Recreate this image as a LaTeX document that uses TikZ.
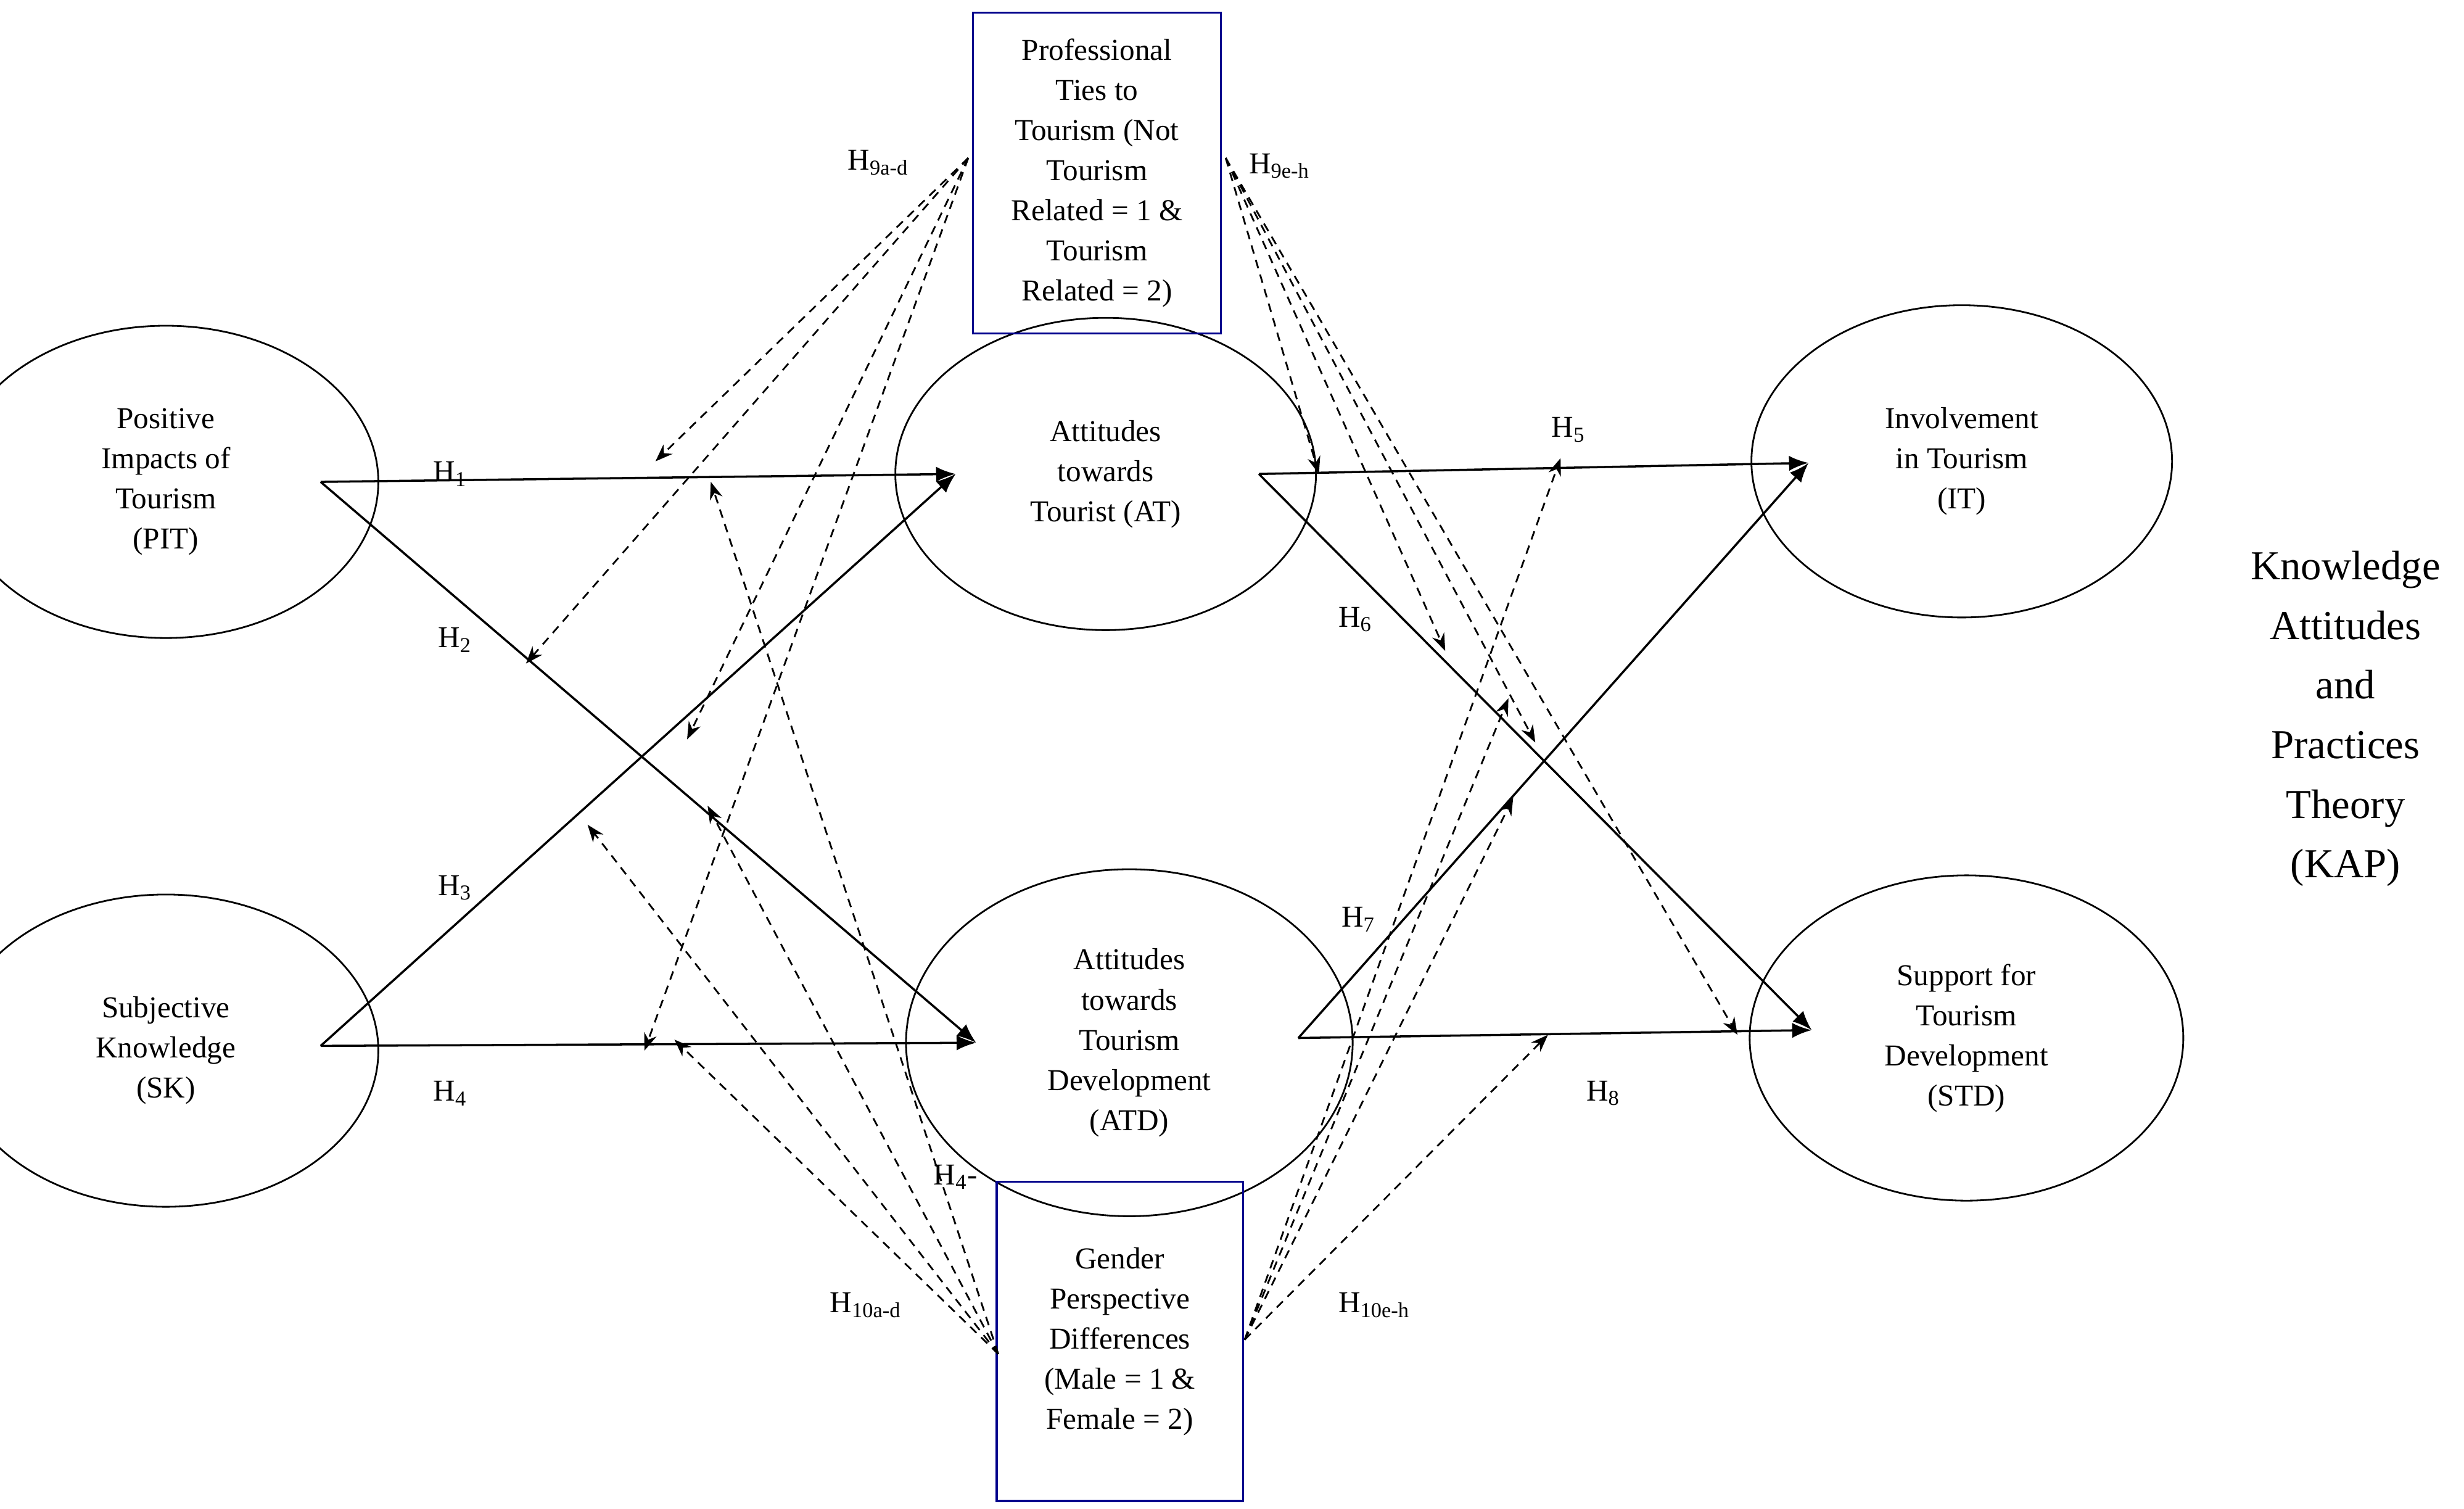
\documentclass[tikz,border=0pt]{standalone}
\usepackage{fontspec}
\setmainfont{Liberation Serif}
\usetikzlibrary{shapes.geometric,arrows.meta}
\begin{document}
\begin{tikzpicture}[x=0.02561cm,y=-0.02561cm,
 el/.style={draw,ellipse,line width=0.8pt,align=center,font=\fontsize{14}{18.5}\selectfont},
 bx/.style={draw=blue!55!black,line width=1pt,align=center,font=\fontsize{14}{18.5}\selectfont},
 sol/.style={line width=1pt,-{Latex[length=9pt,width=7pt]}},
 das/.style={line width=0.8pt,dashed,dash pattern=on 4pt off 3pt,-{Stealth[length=8pt,width=6pt]}},
 lb/.style={font=\fontsize{14}{17}\selectfont}]
\useasboundingbox (0,0) rectangle (1560,955);
\node[el,minimum width=196,minimum height=144] (PIT) at (105,305) {};
\node[align=center,font=\fontsize{14}{18.5}\selectfont] at (PIT) {Positive\\Impacts of\\Tourism\\(PIT)};
\node[el,minimum width=196,minimum height=144] (SK) at (105,665) {};
\node[align=center,font=\fontsize{14}{18.5}\selectfont] at (SK) {Subjective\\Knowledge\\(SK)};
\node[el,minimum width=194,minimum height=144] (AT) at (700,300) {};
\node[align=center,font=\fontsize{14}{18.5}\selectfont] at (AT) {Attitudes\\towards\\Tourist (AT)};
\node[el,minimum width=206,minimum height=160] (ATD) at (715,660) {};
\node[align=center,font=\fontsize{14}{18.5}\selectfont] at (ATD) {Attitudes\\towards\\Tourism\\Development\\(ATD)};
\node[el,minimum width=194,minimum height=144] (IT) at (1242,292) {};
\node[align=center,font=\fontsize{14}{18.5}\selectfont] at (IT) {Involvement\\in Tourism\\(IT)};
\node[el,minimum width=200,minimum height=150] (STD) at (1245,657) {};
\node[align=center,font=\fontsize{14}{18.5}\selectfont] at (STD) {Support for\\Tourism\\Development\\(STD)};
\draw[blue!55!black,line width=1pt] (616,8) rectangle (773,211);
\node[align=center,font=\fontsize{14}{18.5}\selectfont] (PT) at (694.5,109.5) {Professional\\Ties to\\Tourism (Not\\Tourism\\Related = 1 \&\\Tourism\\Related = 2)};
\draw[blue!55!black,line width=1pt] (631,748) rectangle (787,950);
\node[align=center,font=\fontsize{14}{18.5}\selectfont] (GP) at (709,849) {Gender\\Perspective\\Differences\\(Male = 1 \&\\Female = 2)};
\node[align=center,font=\fontsize{19}{27.5}\selectfont] (KAP) at (1485,455) {Knowledge\\Attitudes\\and\\Practices\\Theory\\(KAP)};
% coordinates
\coordinate (pitr) at (203,305); \coordinate (skr) at (203,662);
\coordinate (atl) at (605,300); \coordinate (atdl) at (618,660);
\coordinate (atr) at (797,300); \coordinate (atdr) at (822,657);
\coordinate (itl) at (1145,293); \coordinate (stdl) at (1147,652);
\draw[sol] (pitr) -- (atl);
\draw[sol] (pitr) -- (atdl);
\draw[sol] (skr) -- (atl);
\draw[sol] (skr) -- (atdl);
\draw[sol] (atr) -- (itl);
\draw[sol] (atr) -- (stdl);
\draw[sol] (atdr) -- (itl);
\draw[sol] (atdr) -- (stdl);
\node[lb] at (285,300) {H\textsubscript{1}};
\node[lb] at (288,405) {H\textsubscript{2}};
\node[lb] at (288,562) {H\textsubscript{3}};
\node[lb] at (285,692) {H\textsubscript{4}};
\node[lb] at (993,272) {H\textsubscript{5}};
\node[lb] at (858,392) {H\textsubscript{6}};
\node[lb] at (860,582) {H\textsubscript{7}};
\node[lb] at (1015,692) {H\textsubscript{8}};
\node[lb] at (556,103) {H\textsubscript{9a-d}};
\node[lb] at (810,105) {H\textsubscript{9e-h}};
\node[lb] at (548,826) {H\textsubscript{10a-d}};
\node[lb] at (870,826) {H\textsubscript{10e-h}};
\node[lb] at (605,745) {H\textsubscript{4}-};
% dashed
\coordinate (tl) at (613,100); \coordinate (tr) at (776,100);
\coordinate (bl) at (632,857); \coordinate (br) at (788,848);
\coordinate (d1) at (415,292); \coordinate (d2) at (333,420); \coordinate (d3) at (435,468); \coordinate (d4) at (408,665);
\coordinate (d5) at (835,300); \coordinate (d6) at (915,412); \coordinate (d7) at (972,470); \coordinate (d8) at (1100,655);
\coordinate (d9) at (450,305); \coordinate (d10) at (372,522); \coordinate (d11) at (448,510); \coordinate (d12) at (427,658);
\coordinate (d13) at (988,290); \coordinate (d14) at (955,442); \coordinate (d15) at (958,505); \coordinate (d16) at (980,655);
\foreach \d in {d1,d2,d3,d4} \draw[das] (tl) -- (\d);
\foreach \d in {d5,d6,d7,d8} \draw[das] (tr) -- (\d);
\foreach \d in {d9,d10,d11,d12} \draw[das] (bl) -- (\d);
\foreach \d in {d13,d14,d15,d16} \draw[das] (br) -- (\d);
\end{tikzpicture}
\end{document}
